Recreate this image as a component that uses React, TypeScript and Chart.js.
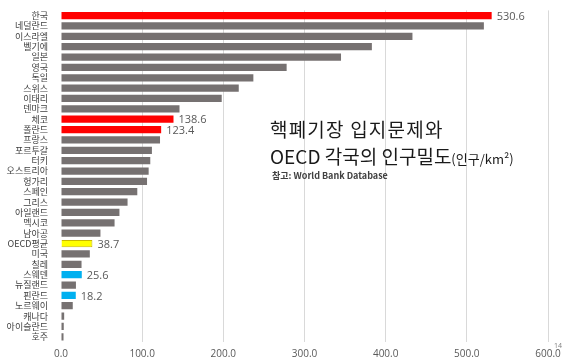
import React, { useEffect, useRef } from "react";
import { Chart, registerables } from "chart.js";

Chart.register(...registerables);

const categories = [
  "한국", "네덜란드", "이스라엘", "벨기에", "일본", "영국", "독일", "스위스", "이태리", "덴마크",
  "체코", "폴란드", "프랑스", "포르투갈", "터키", "오스트리아", "헝가리", "스페인", "그리스", "아일랜드",
  "멕시코", "남아공", "OECD평균", "미국", "칠레", "스웨덴", "뉴질랜드", "핀란드", "노르웨이", "캐나다",
  "아이슬란드", "호주",
];
const density = [
  530.6, 521, 433, 383, 345, 278, 237, 219, 198, 146,
  138.6, 123.4, 122, 112, 110, 108, 106, 94, 82, 72,
  66, 48.6, 38.7, 35.5, 25.3, 25.6, 18.4, 18.2, 14.5, 3.9,
  3.4, 3.1,
];
const highlighted = ["한국", "체코", "폴란드", "OECD평균", "스웨덴", "핀란드"];
const xTicks = [0, 100, 200, 300, 400, 500, 600];

const RED = "#ff0000";
const YELLOW = "#ffff00";
const BLUE = "#00b0f0";
const GRAY = "#767171";

function barColor(name: string): string {
  if (name === "한국" || name === "체코" || name === "폴란드") return RED;
  if (name === "OECD평균") return YELLOW;
  if (name === "스웨덴" || name === "핀란드") return BLUE;
  return GRAY;
}

const valueLabels = {
  id: "valueLabels",
  afterDatasetsDraw(chart: any) {
    const ctx = chart.ctx;
    const meta = chart.getDatasetMeta(0);
    ctx.save();
    ctx.font = "11px 'Open Sans', 'Noto Sans', sans-serif";
    ctx.fillStyle = "#595959";
    ctx.textAlign = "left";
    ctx.textBaseline = "middle";
    meta.data.forEach((bar: any, i: number) => {
      if (highlighted.includes(categories[i])) {
        ctx.fillText(density[i].toFixed(1), bar.x + 5, bar.y + 1);
      }
    });
    ctx.restore();
  },
};

export default function App() {
  const ref = useRef<HTMLCanvasElement | null>(null);

  useEffect(() => {
    document.body.style.margin = "0";
    const canvas = ref.current;
    if (!canvas) return;
    const chart = new Chart(canvas, {
      type: "bar",
      data: {
        labels: categories,
        datasets: [
          {
            data: density,
            backgroundColor: categories.map(barColor),
            borderColor: categories.map((c) => (c === "OECD평균" ? "#c9b800" : barColor(c))),
            borderWidth: categories.map((c) => (c === "OECD평균" ? 1 : 0)),
            barPercentage: 0.7,
            categoryPercentage: 1,
          },
        ],
      },
      options: {
        indexAxis: "y",
        animation: false,
        responsive: false,
        maintainAspectRatio: false,
        layout: { padding: { left: 0, right: 19, top: 0, bottom: 0 } },
        plugins: { legend: { display: false }, tooltip: { enabled: false } },
        scales: {
          x: {
            type: "linear",
            min: 0,
            max: 600,
            afterBuildTicks: (scale: any) => {
              scale.ticks = xTicks.map((v) => ({ value: v }));
            },
            afterFit: (scale: any) => {
              scale.height = 21;
            },
            grid: {
              color: (c: any) => (c.tick && c.tick.value === 0 ? "rgba(0,0,0,0)" : "#d9d9d9"),
              drawTicks: false,
            },
            border: { display: false },
            ticks: {
              color: "#595959",
              padding: 6,
              font: { size: 10, family: "'Open Sans', 'Noto Sans', sans-serif" },
              callback: (v: any) => Number(v).toFixed(1),
            },
          },
          y: {
            afterFit: (scale: any) => {
              scale.width = 61;
            },
            grid: { display: false },
            border: { display: false },
            ticks: {
              color: "#404040",
              padding: 5,
              autoSkip: false,
              font: { size: 9, family: "'Noto Sans CJK KR', sans-serif" },
            },
          },
        },
      },
      plugins: [valueLabels],
    });
    return () => chart.destroy();
  }, []);

  return (
    <div style={{ position: "relative", width: 567, height: 363, background: "#fff" }}>
      <canvas ref={ref} width={567} height={363} style={{ display: "block" }} />
      <div
        style={{
          position: "absolute",
          left: 270,
          top: 115,
          fontFamily: "'Noto Sans CJK KR', sans-serif",
          fontSize: 19,
          lineHeight: "27px",
          color: "#1a1a1a",
          whiteSpace: "nowrap",
        }}
      >
        <div style={{ letterSpacing: 1.2 }}>핵폐기장 입지문제와</div>
        <div>
          OECD 각국의 인구밀도<span style={{ fontSize: 13 }}>(인구/km²)</span>
        </div>
      </div>
      <div
        style={{
          position: "absolute",
          left: 272,
          top: 169,
          fontFamily: "'Noto Sans CJK KR', sans-serif",
          fontSize: 9,
          fontWeight: 600,
          color: "#404040",
          whiteSpace: "nowrap",
        }}
      >
        참고: World Bank Database
      </div>
      <div
        style={{
          position: "absolute",
          left: 554,
          top: 341,
          fontFamily: "'Open Sans', sans-serif",
          fontSize: 7,
          color: "#808080",
        }}
      >
        14
      </div>
    </div>
  );
}
